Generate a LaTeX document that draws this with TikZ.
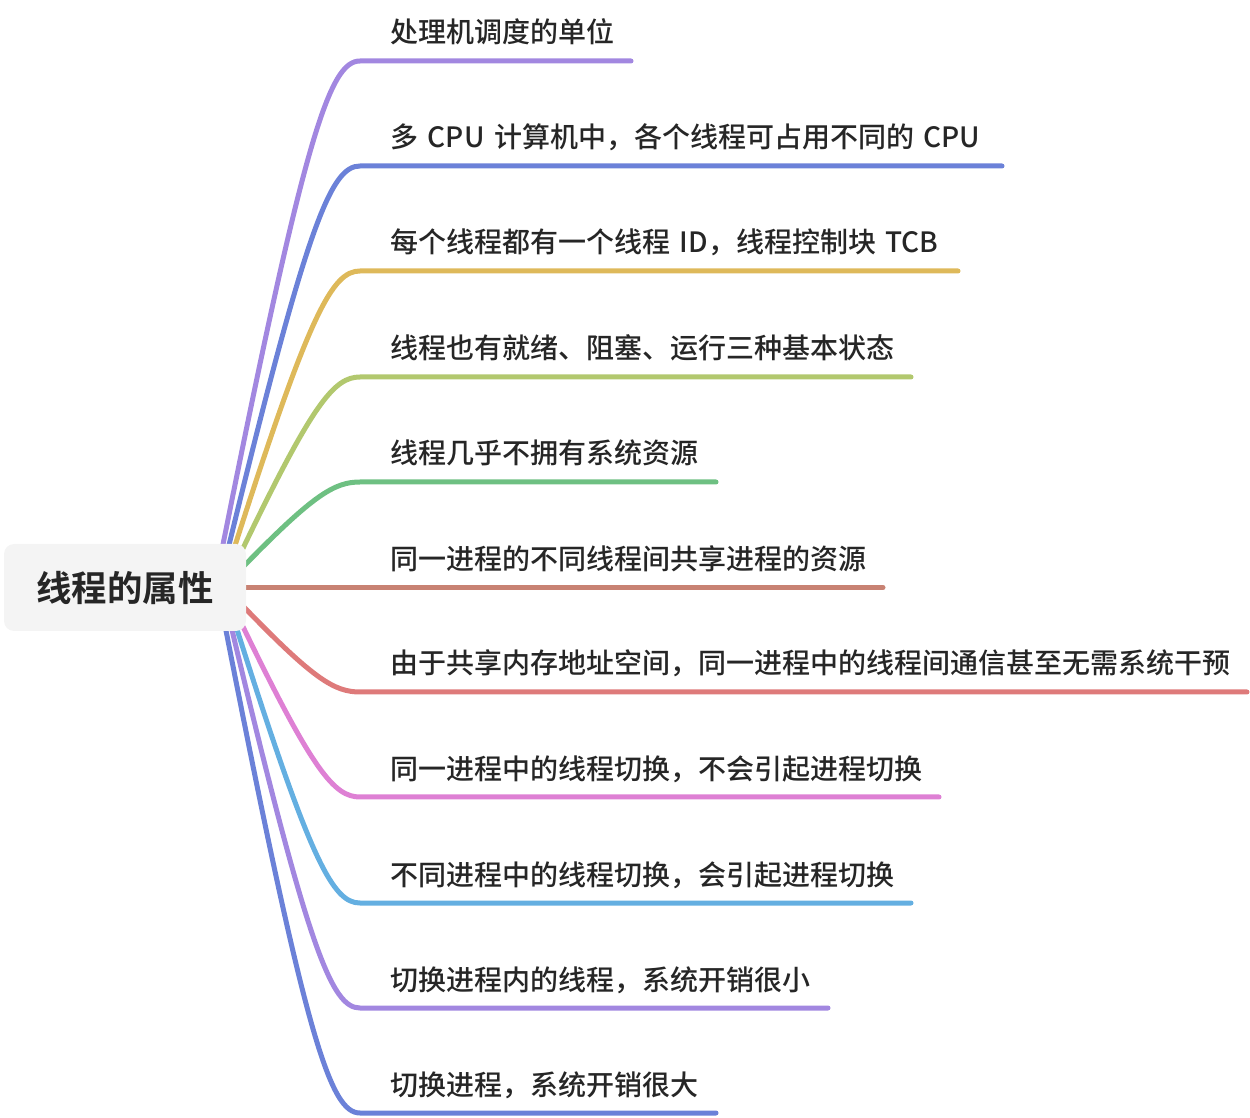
\documentclass[tikz,border=0pt]{standalone}
\usepackage{fontspec}
\setmainfont{Noto Sans CJK SC}[UprightFont=* Medium, BoldFont=* Bold, WordSpace=1.5]
\usetikzlibrary{calc, backgrounds}
\definecolor{textDark}{RGB}{38,38,38}
\definecolor{rootFill}{RGB}{244,244,244}
\definecolor{brPurple}{RGB}{162,135,224}
\definecolor{brBlue}{RGB}{107,129,216}
\definecolor{brYellow}{RGB}{222,185,90}
\definecolor{brOlive}{RGB}{178,200,110}
\definecolor{brGreen}{RGB}{110,192,130}
\definecolor{brBrown}{RGB}{200,130,115}
\definecolor{brRed}{RGB}{222,122,122}
\definecolor{brPink}{RGB}{222,128,212}
\definecolor{brSky}{RGB}{100,175,225}

\begin{document}
\begin{tikzpicture}[x=0.5pt,y=-0.5pt,
    rootbox/.style={fill=rootFill,rounded corners=5pt,minimum width=121pt,minimum height=43.5pt,
      text=textDark,font=\bfseries\fontsize{17.7}{20}\selectfont},
    leaf/.style={anchor=base west,inner sep=0pt,text=textDark,font=\fontsize{14}{16}\selectfont},
    branch/.style={line width=2.5pt,line cap=round}]
  \useasboundingbox (0,0) rectangle (1250,1118);
  % Root
  \node[rootbox] (root) at (125,587.5) {线程的属性};
  % Branches
  \foreach \i/\yy/\xe/\dx/\dy/\col/\txt in {
      1/61/631/-24/-40/brPurple/处理机调度的单位,
      2/166/1002/-18/-40/brBlue/多 CPU 计算机中，各个线程可占用不同的 CPU,
      3/271/958/-12/-40/brYellow/每个线程都有一个线程 ID，线程控制块 TCB,
      4/377/911/-4/-38/brOlive/线程也有就绪、阻塞、运行三种基本状态,
      5/482/716/-2/-22/brGreen/线程几乎不拥有系统资源,
      6/587.5/883/-2/0/brBrown/同一进程的不同线程间共享进程的资源,
      7/692/1247/-2/20/brRed/由于共享内存地址空间，同一进程中的线程间通信甚至无需系统干预,
      8/797/939/-4/38/brPink/同一进程中的线程切换，不会引起进程切换,
      9/903/911/-10/40/brSky/不同进程中的线程切换，会引起进程切换,
      10/1008/828/-15/40/brPurple/切换进程内的线程，系统开销很小,
      11/1113/716/-21/40/brBlue/切换进程，系统开销很大}
  {
    \coordinate (s\i) at ($(root.east)+(\dx,\dy)$);
    \coordinate (k\i) at (360,\yy);
    \coordinate (e\i) at (\xe,\yy);
    \node[leaf] (t\i) at (390,\yy-18) {\txt};
    \begin{scope}[on background layer]
      \draw[branch,\col] let \p0=(s\i), \p1=(k\i) in
        (s\i) .. controls ({\x0+0.6*(\x1-\x0)},{\y0+0.85*(\y1-\y0)})
        and ({\x0+0.78*(\x1-\x0)},\y1) .. (k\i) -- (e\i);
    \end{scope}
  }
\end{tikzpicture}
\end{document}
